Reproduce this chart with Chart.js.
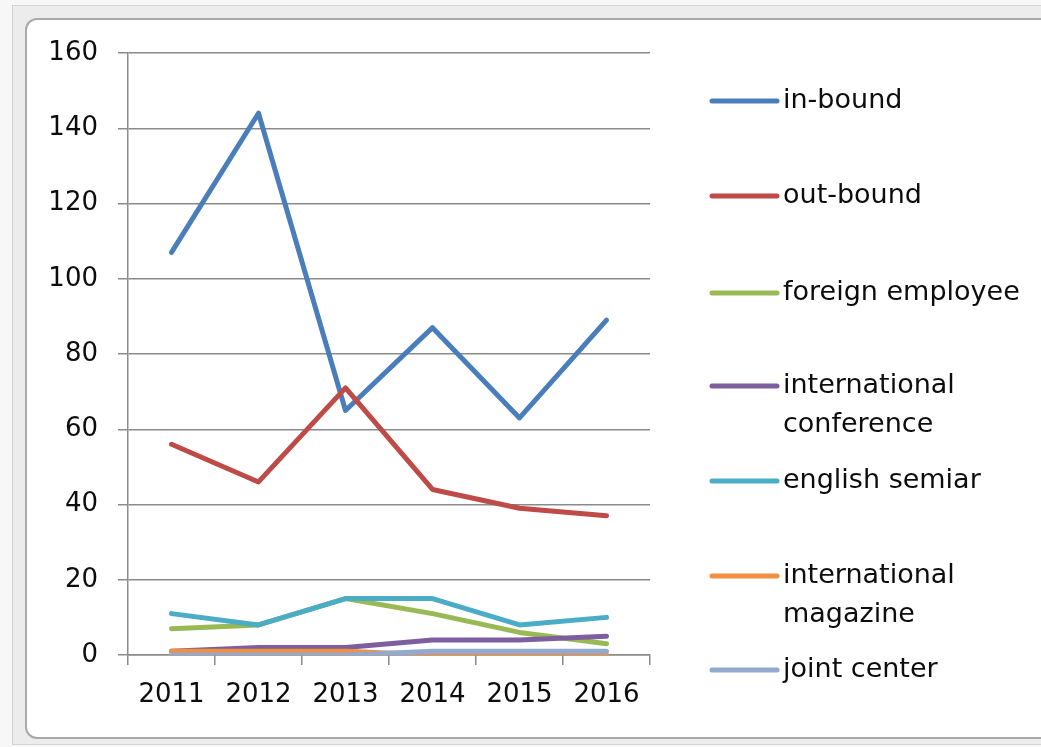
<!DOCTYPE html>
<html>
<head>
<meta charset="utf-8">
<script src="https://cdn.jsdelivr.net/npm/chart.js@4/dist/chart.umd.min.js"></script>
<style>
  html, body { margin:0; padding:0; background:#f7f7f7; width:1041px; height:747px; overflow:hidden; }
  #frame { position:absolute; left:12px; top:5px; width:1100px; height:738px; background:#ececec; border:1px solid #d4d4d4; }
  #panel { position:absolute; left:25px; top:18px; width:1100px; height:717px; background:#fff; border:2px solid #a9a9a9; border-radius:12px; }
  #wrap { position:absolute; left:0; top:0; width:1041px; height:747px; }
</style>
</head>
<body>
<div id="frame"></div>
<div id="panel"></div>
<div id="wrap"><canvas id="c" width="1041" height="747"></canvas></div>
<script>
const categories = ["2011", "2012", "2013", "2014", "2015", "2016"];
const seriesNames = ["in-bound", "out-bound", "foreign employee", "international conference", "english semiar", "international magazine", "joint center"];
const legendLines = [["in-bound"], ["out-bound"], ["foreign employee"], ["international", "conference"], ["english semiar"], ["international", "magazine"], ["joint center"]];
const inBound = [107, 144, 65, 87, 63, 89];
const outBound = [56, 46, 71, 44, 39, 37];
const foreignEmployee = [7, 8, 15, 11, 6, 3];
const internationalConference = [1, 2, 2, 4, 4, 5];
const englishSemiar = [11, 8, 15, 15, 8, 10];
const internationalMagazine = [1, 1, 1, 0, 0, 0];
const jointCenter = [0, 0, 0, 1, 1, 1];
const yTicks = [0, 20, 40, 60, 80, 100, 120, 140, 160];
const colors = ["#4A7EBB", "#BE4B48", "#98B954", "#7D5FA0", "#4BACC6", "#F38F3E", "#93A9CF"];

const allSeries = [inBound, outBound, foreignEmployee, internationalConference, englishSemiar, internationalMagazine, jointCenter];
const n = allSeries.length;
const datasets = allSeries.map((d, i) => ({
  label: seriesNames[i],
  data: d,
  borderColor: colors[i],
  backgroundColor: colors[i],
  borderWidth: 5,
  pointRadius: 0,
  pointHoverRadius: 0,
  tension: 0,
  fill: false,
  borderCapStyle: 'round',
  borderJoinStyle: 'round',
  order: n - 1 - i
}));

const FONT = "'DejaVu Sans', sans-serif";
const legendY = [101, 196, 293, 386, 481, 576, 670];

const legendPlugin = {
  id: 'customLegend',
  afterDraw(chart) {
    const ctx = chart.ctx;
    ctx.save();
    ctx.font = "27px " + FONT;
    ctx.textBaseline = 'middle';
    ctx.textAlign = 'left';
    chart.data.datasets.forEach((ds, i) => {
      const y = legendY[i];
      ctx.strokeStyle = ds.borderColor;
      ctx.lineWidth = 5;
      ctx.lineCap = 'round';
      ctx.beginPath();
      ctx.moveTo(712, y);
      ctx.lineTo(777, y);
      ctx.stroke();
      ctx.fillStyle = '#0d0d0d';
      legendLines[i].forEach((t, k) => ctx.fillText(t, 783, y + k * 39));
    });
    ctx.restore();
  }
};

new Chart(document.getElementById('c'), {
  type: 'line',
  data: { labels: categories, datasets },
  plugins: [legendPlugin],
  options: {
    responsive: false,
    animation: false,
    events: [],
    layout: { padding: { left: 0, right: 391, top: 53, bottom: 0 } },
    plugins: { legend: { display: false }, tooltip: { enabled: false } },
    scales: {
      x: {
        offset: true,
        grid: { offset: true, drawOnChartArea: false, drawTicks: true, tickLength: 10, color: '#8a8a8a', lineWidth: 1.5 },
        border: { color: '#8a8a8a', width: 1.5 },
        ticks: { color: '#0d0d0d', font: { family: FONT, size: 26 }, padding: 15, maxRotation: 0, autoSkip: false },
        afterFit: s => { s.height = 92; }
      },
      y: {
        min: 0, max: 160,
        afterBuildTicks: s => { s.ticks = yTicks.map(v => ({ value: v })); },
        grid: { color: '#8a8a8a', lineWidth: 1.5, tickLength: 10 },
        border: { color: '#8a8a8a', width: 1.5 },
        ticks: { color: '#0d0d0d', font: { family: FONT, size: 26 }, padding: 20 },
        afterFit: s => { s.width = 128; }
      }
    }
  }
});
</script>
</body>
</html>
